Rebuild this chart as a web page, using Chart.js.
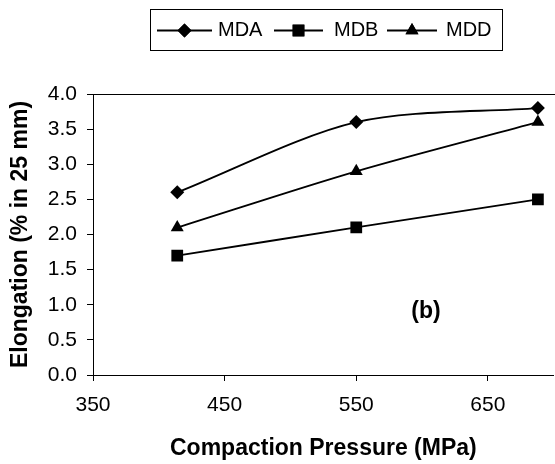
<!DOCTYPE html>
<html>
<head>
<meta charset="utf-8">
<script src="https://cdn.jsdelivr.net/npm/chart.js@4/dist/chart.umd.min.js"></script>
<style>
html, body { margin: 0; padding: 0; background: #fff; overflow: hidden; }
#wrap { position: absolute; left: 0; top: 0; width: 562px; height: 464px; }
</style>
</head>
<body>
<div id="wrap"><canvas id="c" width="562" height="464"></canvas></div>
<script>
const pressure = [414, 550, 688];
const mda = [2.6, 3.6, 3.8];
const mdb = [1.7, 2.1, 2.5];
const mdd = [2.1, 2.9, 3.6];
const xTicks = [350, 450, 550, 650];
const yTicks = [0, 0.5, 1, 1.5, 2, 2.5, 3, 3.5, 4];
const seriesNames = ['MDA', 'MDB', 'MDD'];
const panelLabel = '(b)';
const xTitle = 'Compaction Pressure (MPa)';
const yTitle = 'Elongation (% in 25 mm)';

const FONT = '"Liberation Sans", Arial, sans-serif';

function pts(ys) { return pressure.map((x, i) => ({ x: x, y: ys[i] })); }

const styles = [
  { pointStyle: 'rectRot', radius: 7 },
  { pointStyle: 'rect', radius: 8.3 },
  { pointStyle: 'triangle', radius: 7.5 }
];

const datasets = [mda, mdb, mdd].map((d, i) => ({
  label: seriesNames[i],
  data: pts(d),
  borderColor: '#000',
  backgroundColor: '#000',
  borderWidth: 1.8,
  pointStyle: styles[i].pointStyle,
  pointRadius: styles[i].radius,
  pointHoverRadius: styles[i].radius,
  pointBorderWidth: 0,
  tension: 0.3,
  fill: false
}));

const extras = {
  id: 'extras',
  afterDraw(chart) {
    const ctx = chart.ctx;
    const a = chart.chartArea;
    ctx.save();
    ctx.strokeStyle = '#000';
    ctx.lineWidth = 1;
    ctx.beginPath();
    ctx.moveTo(a.left, a.top + 0.5);
    ctx.lineTo(chart.width, a.top + 0.5);
    ctx.stroke();

    const xs = chart.scales.x, ys = chart.scales.y;
    ctx.fillStyle = '#000';
    ctx.font = 'bold 23px ' + FONT;
    ctx.textAlign = 'center';
    ctx.textBaseline = 'middle';
    ctx.fillText(panelLabel, xs.getPixelForValue(603), ys.getPixelForValue(0.9));

    ctx.lineWidth = 1;
    ctx.strokeRect(150.5, 9.5, 352, 41);
    const items = [
      { x1: 157, x2: 212, tx: 218 },
      { x1: 274, x2: 323, tx: 334 },
      { x1: 387, x2: 437, tx: 446 }
    ];
    const ly = 30.5;
    ctx.font = '20px ' + FONT;
    ctx.textAlign = 'left';
    items.forEach((it, i) => {
      ctx.lineWidth = 1.8;
      ctx.beginPath();
      ctx.moveTo(it.x1, ly);
      ctx.lineTo(it.x2, ly);
      ctx.stroke();
      Chart.helpers.drawPoint(ctx, { pointStyle: styles[i].pointStyle, radius: styles[i].radius, borderWidth: 0 }, (it.x1 + it.x2) / 2, ly);
      ctx.fill();
      ctx.fillText(seriesNames[i], it.tx, ly);
    });
    ctx.restore();
  }
};

new Chart(document.getElementById('c'), {
  type: 'line',
  data: { datasets: datasets },
  options: {
    responsive: false,
    animation: false,
    events: [],
    layout: { padding: { top: 94, right: 0, left: 0, bottom: 0 } },
    plugins: { legend: { display: false }, tooltip: { enabled: false } },
    scales: {
      x: {
        type: 'linear',
        min: 350,
        max: 700,
        afterBuildTicks: (s) => { s.ticks = xTicks.map(v => ({ value: v })); },
        afterFit: (s) => { s.height = 89; },
        grid: { display: true, drawOnChartArea: false, drawTicks: true, tickLength: 6, color: '#000' },
        border: { display: true, color: '#000', width: 1 },
        ticks: { color: '#000', font: { family: FONT, size: 21 }, padding: 12, maxRotation: 0, autoSkip: false },
        title: { display: true, text: xTitle, color: '#000', font: { family: FONT, size: 23, weight: 'bold' }, padding: { top: 0, bottom: 2 } }
      },
      y: {
        type: 'linear',
        min: 0,
        max: 4,
        afterBuildTicks: (s) => { s.ticks = yTicks.map(v => ({ value: v })); },
        afterFit: (s) => { s.width = 93; },
        grid: { display: true, drawOnChartArea: false, drawTicks: true, tickLength: 6, color: '#000' },
        border: { display: true, color: '#000', width: 1 },
        ticks: { color: '#000', font: { family: FONT, size: 21 }, padding: 10, callback: (v) => v.toFixed(1) },
        title: { display: true, text: yTitle, color: '#000', font: { family: FONT, size: 23, weight: 'bold' }, padding: { top: 7, bottom: 0 } }
      }
    }
  },
  plugins: [extras]
});
</script>
</body>
</html>
